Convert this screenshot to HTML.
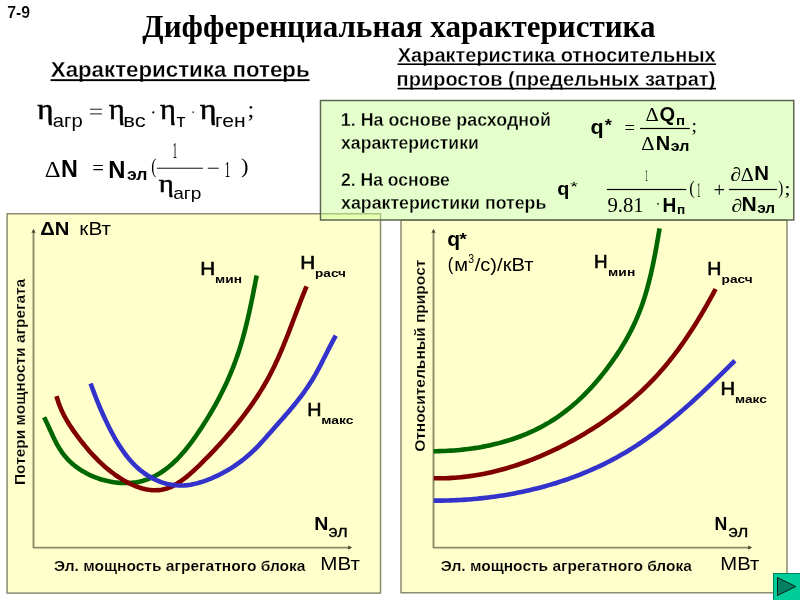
<!DOCTYPE html>
<html lang="ru">
<head>
<meta charset="utf-8">
<title>Дифференциальная характеристика</title>
<style>
html,body{margin:0;padding:0;background:#fff;}
body{width:800px;height:600px;overflow:hidden;position:relative;}
svg{display:block;position:absolute;left:0;top:0;}
text{white-space:pre;}
.s{font-family:"Liberation Sans",Arial,sans-serif;}
.b{font-family:"Liberation Sans",Arial,sans-serif;font-weight:bold;}
.r{font-family:"Liberation Serif","Times New Roman",serif;}
.t{font-family:"Liberation Serif","Times New Roman",serif;font-weight:bold;}
</style>
</head>
<body>
<svg width="800" height="600" viewBox="0 0 800 600">
<rect x="7.1" y="213.75" width="373.4" height="379.35" fill="#FFFFCC" stroke="#8C8C70" stroke-width="1.5"/>
<rect x="401" y="220" width="386" height="372.75" fill="#FFFFCC" stroke="#8C8C70" stroke-width="1.5"/>
<rect x="320.5" y="100.5" width="473.25" height="119.5" fill="#CCFF99" fill-opacity="0.5" stroke="#5F6650" stroke-width="1.5"/>
<text class="b" x="7.13" y="17.80" font-size="16.0" textLength="22.83" lengthAdjust="spacingAndGlyphs" stroke="#FFFFFF" stroke-width="0.15">7-9</text>
<text class="t" x="142.34" y="37.20" font-size="31" textLength="513.13" lengthAdjust="spacingAndGlyphs">Дифференциальная характеристика</text>
<text class="b" x="50.78" y="77.10" font-size="22.3" textLength="258.85" lengthAdjust="spacingAndGlyphs" stroke="#FFFFFF" stroke-width="0.3">Характеристика потерь</text>
<rect x="50.50" y="79.20" width="259.10" height="1.90" fill="#000"/>
<text class="b" x="397.80" y="61.60" font-size="20" textLength="317.77" lengthAdjust="spacingAndGlyphs" stroke="#FFFFFF" stroke-width="0.3">Характеристика относительных</text>
<rect x="397.50" y="63.40" width="318.60" height="1.60" fill="#000"/>
<text class="b" x="396.60" y="86.00" font-size="20" textLength="318.72" lengthAdjust="spacingAndGlyphs" stroke="#FFFFFF" stroke-width="0.3">приростов (предельных затрат)</text>
<rect x="397.50" y="87.80" width="318.50" height="1.60" fill="#000"/>
<text class="r" x="37.34" y="119.40" font-size="29" textLength="16.21" lengthAdjust="spacingAndGlyphs" stroke="#000" stroke-width="0.5">η</text>
<text class="s" x="52.89" y="127.20" font-size="17.7" textLength="29.86" lengthAdjust="spacingAndGlyphs">агр</text>
<rect x="90.10" y="108.70" width="11.80" height="1.10" fill="#333"/>
<rect x="90.10" y="113.30" width="11.80" height="1.10" fill="#333"/>
<text class="r" x="108.84" y="119.40" font-size="29" textLength="16.09" lengthAdjust="spacingAndGlyphs" stroke="#000" stroke-width="0.5">η</text>
<text class="s" x="123.37" y="127.20" font-size="17.7" textLength="22.34" lengthAdjust="spacingAndGlyphs">вс</text>
<circle cx="153.3" cy="112.4" r="1.1" fill="#000"/>
<text class="r" x="159.94" y="119.40" font-size="29" textLength="15.92" lengthAdjust="spacingAndGlyphs" stroke="#000" stroke-width="0.5">η</text>
<text class="s" x="176.56" y="127.00" font-size="17.7" textLength="8.89" lengthAdjust="spacingAndGlyphs">т</text>
<circle cx="193.2" cy="112.2" r="0.9" fill="#444"/>
<text class="r" x="199.82" y="119.40" font-size="29" textLength="16.78" lengthAdjust="spacingAndGlyphs" stroke="#000" stroke-width="0.5">η</text>
<text class="s" x="215.02" y="127.20" font-size="17.7" textLength="30.63" lengthAdjust="spacingAndGlyphs">ген</text>
<text class="r" x="247.42" y="117.10" font-size="23.4" textLength="6.78" lengthAdjust="spacingAndGlyphs">;</text>
<text class="r" x="44.87" y="177.40" font-size="23" textLength="15.86" lengthAdjust="spacingAndGlyphs">Δ</text>
<text class="b" x="60.93" y="177.10" font-size="24.5" textLength="16.84" lengthAdjust="spacingAndGlyphs" stroke="none">N</text>
<text class="r" x="92.21" y="175.11" font-size="21" textLength="11.70" lengthAdjust="spacingAndGlyphs">=</text>
<text class="b" x="108.29" y="177.60" font-size="24.5" textLength="17.21" lengthAdjust="spacingAndGlyphs" stroke="none">N</text>
<text class="b" x="126.96" y="179.75" font-size="16" textLength="20.48" lengthAdjust="spacingAndGlyphs" stroke="none">эл</text>
<text class="r" x="151.21" y="172.69" font-size="20.7" textLength="5.09" lengthAdjust="spacingAndGlyphs">(</text>
<rect x="156.90" y="167.70" width="46.10" height="1.10" fill="#2a2a2a"/>
<text class="r" x="172.56" y="158.37" font-size="23.9" textLength="4.82" lengthAdjust="spacingAndGlyphs">1</text>
<text class="r" x="158.67" y="191.61" font-size="24.7" textLength="15.06" lengthAdjust="spacingAndGlyphs" stroke="#000" stroke-width="0.5">η</text>
<text class="s" x="173.19" y="199.00" font-size="17" textLength="28.22" lengthAdjust="spacingAndGlyphs">агр</text>
<rect x="207.70" y="167.70" width="11.05" height="1.10" fill="#2a2a2a"/>
<text class="r" x="224.57" y="177.11" font-size="23.5" textLength="5.89" lengthAdjust="spacingAndGlyphs">1</text>
<text class="r" x="241.07" y="172.99" font-size="22" textLength="7.50" lengthAdjust="spacingAndGlyphs">)</text>
<text class="b" x="340.89" y="126.00" font-size="17.6" textLength="210.08" lengthAdjust="spacingAndGlyphs" stroke="#E6FFCC" stroke-width="0.3">1. На основе расходной</text>
<text class="b" x="341.07" y="148.50" font-size="17.6" stroke="#E6FFCC" stroke-width="0.3">характеристики</text>
<text class="b" x="340.88" y="186.00" font-size="17.6" stroke="#E6FFCC" stroke-width="0.3">2. На основе</text>
<text class="b" x="341.07" y="209.10" font-size="17.6" textLength="205.28" lengthAdjust="spacingAndGlyphs" stroke="#E6FFCC" stroke-width="0.3">характеристики потерь</text>
<text class="b" x="590.54" y="133.60" font-size="20" textLength="13.12" lengthAdjust="spacingAndGlyphs" stroke="none">q</text>
<text class="b" x="604.85" y="131.44" font-size="17" textLength="7.18" lengthAdjust="spacingAndGlyphs" stroke="none">*</text>
<text class="r" x="624.58" y="133.76" font-size="18.5" textLength="10.43" lengthAdjust="spacingAndGlyphs">=</text>
<rect x="640.10" y="127.90" width="49.60" height="1.20" fill="#000"/>
<text class="r" x="645.48" y="121.25" font-size="19" textLength="13.20" lengthAdjust="spacingAndGlyphs">Δ</text>
<text class="b" x="659.44" y="120.90" font-size="21" textLength="15.67" lengthAdjust="spacingAndGlyphs" stroke="none">Q</text>
<text class="b" x="675.95" y="124.75" font-size="13" textLength="9.09" lengthAdjust="spacingAndGlyphs" stroke="none">п</text>
<text class="r" x="691.47" y="132.42" font-size="19.4" textLength="5.46" lengthAdjust="spacingAndGlyphs">;</text>
<text class="r" x="641.22" y="150.40" font-size="19" textLength="13.31" lengthAdjust="spacingAndGlyphs">Δ</text>
<text class="b" x="655.65" y="150.38" font-size="19.9" textLength="14.44" lengthAdjust="spacingAndGlyphs" stroke="none">N</text>
<text class="b" x="670.85" y="151.25" font-size="14" textLength="18.57" lengthAdjust="spacingAndGlyphs" stroke="none">эл</text>
<text class="b" x="557.31" y="195.00" font-size="18.6" textLength="12.10" lengthAdjust="spacingAndGlyphs" stroke="none">q</text>
<text class="s" x="570.26" y="191.11" font-size="13.4" textLength="7.56" lengthAdjust="spacingAndGlyphs">*</text>
<rect x="606.90" y="188.90" width="79.35" height="1.20" fill="#000"/>
<text class="r" x="645.13" y="181.23" font-size="16.1" textLength="2.70" lengthAdjust="spacingAndGlyphs">1</text>
<text class="r" x="607.43" y="211.90" font-size="20.3" textLength="36.32" lengthAdjust="spacingAndGlyphs">9.81</text>
<circle cx="658" cy="203.8" r="0.9" fill="#000"/>
<text class="b" x="662.46" y="211.70" font-size="20.4" textLength="13.83" lengthAdjust="spacingAndGlyphs" stroke="none">H</text>
<text class="b" x="676.95" y="213.75" font-size="12.6" textLength="8.18" lengthAdjust="spacingAndGlyphs" stroke="none">п</text>
<text class="r" x="689.26" y="193.59" font-size="18.4" textLength="5.48" lengthAdjust="spacingAndGlyphs">(</text>
<text class="r" x="696.88" y="197.08" font-size="20.2" textLength="3.55" lengthAdjust="spacingAndGlyphs">1</text>
<text class="r" x="713.58" y="196.60" font-size="20" textLength="11.52" lengthAdjust="spacingAndGlyphs">+</text>
<rect x="728.90" y="188.90" width="48.10" height="1.20" fill="#000"/>
<text class="r" x="730.30" y="180.94" font-size="19.5" textLength="10.71" lengthAdjust="spacingAndGlyphs">∂</text>
<text class="r" x="740.74" y="180.60" font-size="18.6" textLength="13.03" lengthAdjust="spacingAndGlyphs">Δ</text>
<text class="b" x="754.32" y="180.01" font-size="19.8" textLength="14.75" lengthAdjust="spacingAndGlyphs" stroke="none">N</text>
<text class="r" x="731.59" y="211.68" font-size="18.3" textLength="10.82" lengthAdjust="spacingAndGlyphs">∂</text>
<text class="b" x="741.48" y="210.87" font-size="19.3" textLength="15.24" lengthAdjust="spacingAndGlyphs" stroke="none">N</text>
<text class="b" x="757.22" y="213.20" font-size="14" textLength="17.86" lengthAdjust="spacingAndGlyphs" stroke="none">эл</text>
<text class="r" x="778.21" y="194.19" font-size="18.4" textLength="5.04" lengthAdjust="spacingAndGlyphs">)</text>
<text class="r" x="784.19" y="195.46" font-size="18" textLength="6.40" lengthAdjust="spacingAndGlyphs">;</text>
<path d="M33.5,232 L33.5,547.6 L349,547.6" fill="none" stroke="#8A8A68" stroke-width="1.9" stroke-linejoin="round"/>
<path d="M31.4,232.8 L33.5,228.8 L35.6,232.8 Z" fill="#4A4A38"/>
<path d="M348.2,545.5 L352.2,547.6 L348.2,549.7 Z" fill="#4A4A38"/>
<path d="M433.5,232 L433.5,547.6 L749,547.6" fill="none" stroke="#8A8A68" stroke-width="1.9" stroke-linejoin="round"/>
<path d="M431.4,232.8 L433.5,228.8 L435.6,232.8 Z" fill="#4A4A38"/>
<path d="M748.2,545.5 L752.2,547.6 L748.2,549.7 Z" fill="#4A4A38"/>
<path d="M44.17,417.34 L45.56,420.15 L46.91,423.00 L48.24,425.88 L49.55,428.77 L50.86,431.67 L52.19,434.56 L53.54,437.44 L54.93,440.28 L56.38,443.08 L57.89,445.82 L59.48,448.50 L61.16,451.09 L62.95,453.60 L64.85,456.02 L66.86,458.33 L68.97,460.55 L71.19,462.68 L73.50,464.71 L75.92,466.63 L78.43,468.47 L81.03,470.20 L83.72,471.83 L86.50,473.36 L89.36,474.79 L92.30,476.12 L95.29,477.34 L98.35,478.45 L101.45,479.45 L104.59,480.33 L107.77,481.10 L110.96,481.74 L114.17,482.26 L117.39,482.65 L120.60,482.92 L123.81,483.05 L126.99,483.05 L130.15,482.91 L133.27,482.64 L136.35,482.22 L139.38,481.65 L142.35,480.94 L145.25,480.08 L148.09,479.09 L150.88,477.96 L153.61,476.70 L156.27,475.32 L158.89,473.82 L161.45,472.21 L163.95,470.49 L166.41,468.68 L168.81,466.76 L171.17,464.76 L173.48,462.67 L175.74,460.51 L177.95,458.27 L180.13,455.96 L182.25,453.59 L184.34,451.17 L186.39,448.69 L188.40,446.17 L190.37,443.60 L192.30,441.00 L194.21,438.38 L196.07,435.72 L197.91,433.05 L199.71,430.37 L201.48,427.68 L203.23,424.99 L204.95,422.29 L206.63,419.60 L208.29,416.89 L209.93,414.19 L211.53,411.47 L213.10,408.76 L214.65,406.03 L216.16,403.30 L217.65,400.56 L219.11,397.82 L220.54,395.06 L221.95,392.29 L223.32,389.52 L224.67,386.73 L225.98,383.93 L227.27,381.11 L228.53,378.29 L229.76,375.45 L230.96,372.59 L232.13,369.73 L233.28,366.84 L234.39,363.94 L235.48,361.02 L236.53,358.08 L237.56,355.13 L238.56,352.15 L239.53,349.15 L240.47,346.14 L241.38,343.11 L242.27,340.06 L243.13,337.00 L243.97,333.92 L244.78,330.83 L245.57,327.74 L246.34,324.64 L247.10,321.53 L247.83,318.42 L248.54,315.30 L249.24,312.19 L249.92,309.08 L250.59,305.97 L251.24,302.87 L251.88,299.77 L252.51,296.68 L253.13,293.61 L253.74,290.54 L254.34,287.49 L254.94,284.46 L255.52,281.44 L256.11,278.45 L256.69,275.47" fill="none" stroke="#006600" stroke-width="4.6" stroke-linejoin="round"/>
<path d="M56.53,396.15 L57.49,399.53 L58.57,402.83 L59.78,406.06 L61.09,409.22 L62.51,412.33 L64.03,415.37 L65.65,418.36 L67.34,421.30 L69.11,424.19 L70.95,427.04 L72.85,429.86 L74.81,432.64 L76.81,435.39 L78.86,438.12 L80.94,440.83 L83.06,443.51 L85.22,446.17 L87.42,448.79 L89.66,451.38 L91.94,453.92 L94.28,456.43 L96.66,458.89 L99.09,461.30 L101.57,463.65 L104.11,465.95 L106.70,468.19 L109.36,470.37 L112.07,472.48 L114.84,474.52 L117.68,476.49 L120.58,478.38 L123.55,480.18 L126.57,481.89 L129.65,483.49 L132.78,484.96 L135.94,486.28 L139.13,487.45 L142.35,488.44 L145.57,489.23 L148.81,489.82 L152.04,490.18 L155.27,490.30 L158.48,490.17 L161.67,489.76 L164.83,489.07 L167.95,488.08 L171.02,486.83 L174.05,485.33 L177.03,483.63 L179.95,481.76 L182.80,479.74 L185.59,477.60 L188.31,475.39 L190.96,473.12 L193.54,470.80 L196.07,468.43 L198.56,466.04 L201.02,463.62 L203.45,461.18 L205.88,458.73 L208.29,456.27 L210.68,453.80 L213.06,451.31 L215.42,448.81 L217.77,446.29 L220.09,443.76 L222.40,441.22 L224.69,438.66 L226.96,436.09 L229.20,433.50 L231.43,430.89 L233.63,428.27 L235.80,425.63 L237.95,422.97 L240.08,420.30 L242.18,417.60 L244.25,414.89 L246.30,412.16 L248.31,409.42 L250.30,406.65 L252.26,403.86 L254.18,401.05 L256.07,398.22 L257.93,395.37 L259.76,392.50 L261.55,389.61 L263.31,386.69 L265.03,383.76 L266.71,380.80 L268.36,377.81 L269.97,374.80 L271.53,371.77 L273.07,368.72 L274.56,365.64 L276.02,362.55 L277.46,359.44 L278.86,356.31 L280.23,353.16 L281.59,350.01 L282.91,346.84 L284.22,343.66 L285.51,340.47 L286.78,337.27 L288.04,334.07 L289.29,330.86 L290.52,327.65 L291.75,324.44 L292.97,321.23 L294.19,318.01 L295.40,314.81 L296.62,311.60 L297.83,308.40 L299.05,305.21 L300.28,302.03 L301.52,298.86 L302.76,295.70 L304.02,292.56 L305.30,289.43 L306.59,286.31" fill="none" stroke="#800000" stroke-width="4.6" stroke-linejoin="round"/>
<path d="M90.64,383.57 L91.73,386.55 L92.82,389.50 L93.92,392.42 L95.03,395.33 L96.16,398.22 L97.30,401.08 L98.47,403.94 L99.65,406.78 L100.85,409.60 L102.08,412.42 L103.33,415.23 L104.62,418.03 L105.93,420.82 L107.27,423.62 L108.64,426.41 L110.05,429.20 L111.50,431.99 L112.99,434.77 L114.52,437.53 L116.10,440.28 L117.72,443.00 L119.39,445.68 L121.12,448.33 L122.90,450.93 L124.75,453.49 L126.65,455.99 L128.61,458.42 L130.64,460.79 L132.74,463.09 L134.92,465.31 L137.16,467.44 L139.48,469.48 L141.88,471.42 L144.35,473.26 L146.90,475.00 L149.51,476.62 L152.19,478.12 L154.92,479.50 L157.70,480.75 L160.54,481.87 L163.42,482.85 L166.33,483.69 L169.29,484.37 L172.27,484.90 L175.28,485.27 L178.31,485.48 L181.36,485.52 L184.42,485.38 L187.49,485.10 L190.56,484.66 L193.63,484.08 L196.69,483.38 L199.74,482.55 L202.76,481.62 L205.77,480.58 L208.75,479.46 L211.69,478.26 L214.60,476.98 L217.47,475.65 L220.29,474.26 L223.06,472.81 L225.79,471.30 L228.48,469.74 L231.12,468.12 L233.72,466.45 L236.28,464.72 L238.79,462.94 L241.26,461.10 L243.69,459.21 L246.07,457.27 L248.41,455.28 L250.71,453.24 L252.96,451.14 L255.17,449.00 L257.35,446.80 L259.48,444.57 L261.59,442.30 L263.67,440.01 L265.74,437.68 L267.79,435.35 L269.84,433.00 L271.89,430.65 L273.94,428.30 L276.00,425.95 L278.07,423.62 L280.14,421.28 L282.20,418.95 L284.26,416.61 L286.31,414.26 L288.34,411.91 L290.35,409.54 L292.34,407.16 L294.31,404.77 L296.25,402.36 L298.17,399.93 L300.06,397.48 L301.92,395.02 L303.74,392.53 L305.54,390.01 L307.29,387.47 L309.01,384.90 L310.70,382.31 L312.34,379.68 L313.94,377.02 L315.49,374.33 L317.01,371.61 L318.50,368.87 L319.96,366.11 L321.40,363.33 L322.82,360.54 L324.23,357.75 L325.64,354.95 L327.04,352.16 L328.45,349.37 L329.88,346.60 L331.31,343.84 L332.77,341.10 L334.26,338.38 L335.78,335.70" fill="none" stroke="#3333CC" stroke-width="4.6" stroke-linejoin="round"/>
<path d="M433.51,451.23 L436.41,451.20 L439.32,451.15 L442.24,451.07 L445.17,450.96 L448.10,450.82 L451.04,450.65 L453.98,450.45 L456.92,450.21 L459.86,449.95 L462.81,449.65 L465.76,449.32 L468.70,448.95 L471.65,448.55 L474.59,448.12 L477.53,447.65 L480.46,447.15 L483.39,446.62 L486.31,446.04 L489.23,445.43 L492.13,444.79 L495.03,444.11 L497.92,443.39 L500.79,442.63 L503.66,441.84 L506.51,441.00 L509.35,440.13 L512.18,439.22 L514.99,438.27 L517.78,437.28 L520.56,436.25 L523.31,435.18 L526.05,434.06 L528.77,432.91 L531.47,431.71 L534.14,430.47 L536.80,429.19 L539.43,427.86 L542.03,426.49 L544.61,425.07 L547.17,423.62 L549.69,422.11 L552.19,420.56 L554.66,418.97 L557.11,417.34 L559.52,415.67 L561.91,413.95 L564.27,412.20 L566.61,410.40 L568.91,408.57 L571.19,406.70 L573.44,404.80 L575.66,402.86 L577.86,400.88 L580.02,398.88 L582.16,396.84 L584.27,394.76 L586.35,392.66 L588.40,390.53 L590.43,388.37 L592.42,386.18 L594.39,383.97 L596.34,381.73 L598.26,379.47 L600.15,377.18 L602.02,374.88 L603.86,372.56 L605.68,370.22 L607.47,367.86 L609.24,365.49 L610.99,363.10 L612.71,360.69 L614.40,358.27 L616.07,355.83 L617.71,353.37 L619.32,350.90 L620.90,348.41 L622.45,345.90 L623.97,343.38 L625.45,340.84 L626.91,338.28 L628.33,335.70 L629.72,333.11 L631.07,330.50 L632.39,327.87 L633.67,325.22 L634.91,322.56 L636.12,319.88 L637.29,317.18 L638.42,314.46 L639.51,311.72 L640.56,308.97 L641.57,306.20 L642.55,303.42 L643.50,300.62 L644.41,297.81 L645.29,294.98 L646.14,292.14 L646.96,289.30 L647.75,286.44 L648.51,283.57 L649.25,280.69 L649.97,277.81 L650.66,274.92 L651.33,272.02 L651.97,269.12 L652.60,266.22 L653.21,263.31 L653.81,260.39 L654.39,257.48 L654.95,254.57 L655.50,251.65 L656.04,248.74 L656.57,245.82 L657.09,242.91 L657.60,240.01 L658.10,237.11 L658.60,234.21 L659.10,231.32 L659.59,228.43" fill="none" stroke="#006600" stroke-width="4.6" stroke-linejoin="round"/>
<path d="M433.75,478.28 L436.79,478.32 L439.81,478.32 L442.84,478.28 L445.86,478.20 L448.87,478.08 L451.88,477.92 L454.88,477.72 L457.88,477.48 L460.87,477.20 L463.85,476.89 L466.83,476.53 L469.80,476.14 L472.77,475.72 L475.73,475.25 L478.68,474.75 L481.63,474.22 L484.57,473.65 L487.50,473.05 L490.42,472.41 L493.34,471.74 L496.25,471.03 L499.15,470.30 L502.04,469.53 L504.93,468.73 L507.80,467.89 L510.67,467.03 L513.53,466.14 L516.39,465.21 L519.23,464.26 L522.06,463.28 L524.89,462.27 L527.71,461.23 L530.51,460.16 L533.31,459.07 L536.10,457.95 L538.88,456.80 L541.65,455.63 L544.41,454.43 L547.16,453.21 L549.90,451.96 L552.63,450.69 L555.35,449.39 L558.05,448.07 L560.75,446.73 L563.44,445.37 L566.11,443.98 L568.78,442.57 L571.43,441.14 L574.07,439.69 L576.70,438.22 L579.32,436.73 L581.92,435.22 L584.52,433.69 L587.10,432.14 L589.66,430.56 L592.21,428.96 L594.75,427.35 L597.27,425.71 L599.78,424.05 L602.28,422.37 L604.75,420.67 L607.22,418.95 L609.66,417.21 L612.09,415.44 L614.51,413.66 L616.90,411.85 L619.28,410.03 L621.64,408.18 L623.99,406.31 L626.31,404.42 L628.62,402.50 L630.90,400.57 L633.17,398.62 L635.42,396.64 L637.65,394.64 L639.86,392.62 L642.05,390.58 L644.21,388.52 L646.36,386.44 L648.48,384.33 L650.58,382.21 L652.66,380.06 L654.72,377.89 L656.75,375.70 L658.76,373.49 L660.75,371.26 L662.72,369.00 L664.66,366.73 L666.58,364.43 L668.48,362.12 L670.35,359.79 L672.21,357.44 L674.04,355.07 L675.85,352.68 L677.65,350.28 L679.42,347.86 L681.18,345.43 L682.91,342.98 L684.63,340.52 L686.33,338.04 L688.01,335.55 L689.67,333.05 L691.32,330.53 L692.95,328.00 L694.56,325.46 L696.15,322.91 L697.73,320.35 L699.30,317.78 L700.85,315.21 L702.38,312.62 L703.90,310.02 L705.41,307.42 L706.90,304.81 L708.38,302.19 L709.85,299.57 L711.30,296.94 L712.74,294.31 L714.17,291.67 L715.59,289.03" fill="none" stroke="#800000" stroke-width="4.6" stroke-linejoin="round"/>
<path d="M433.67,500.66 L436.55,500.66 L439.44,500.64 L442.33,500.61 L445.22,500.55 L448.11,500.48 L451.00,500.39 L453.89,500.28 L456.78,500.15 L459.67,500.00 L462.56,499.83 L465.45,499.64 L468.34,499.43 L471.23,499.21 L474.11,498.96 L477.00,498.69 L479.88,498.41 L482.76,498.10 L485.64,497.77 L488.52,497.43 L491.39,497.06 L494.26,496.68 L497.13,496.27 L499.99,495.84 L502.85,495.40 L505.71,494.93 L508.56,494.44 L511.41,493.93 L514.26,493.40 L517.10,492.85 L519.93,492.28 L522.77,491.69 L525.59,491.08 L528.41,490.44 L531.23,489.79 L534.04,489.11 L536.84,488.41 L539.64,487.69 L542.43,486.95 L545.21,486.19 L547.99,485.41 L550.76,484.60 L553.52,483.77 L556.28,482.93 L559.02,482.05 L561.76,481.16 L564.49,480.25 L567.22,479.31 L569.93,478.35 L572.64,477.37 L575.33,476.36 L578.02,475.33 L580.70,474.28 L583.37,473.21 L586.03,472.12 L588.68,471.00 L591.32,469.86 L593.94,468.69 L596.56,467.51 L599.17,466.30 L601.77,465.06 L604.35,463.81 L606.92,462.53 L609.48,461.22 L612.03,459.90 L614.57,458.54 L617.09,457.17 L619.61,455.77 L622.11,454.35 L624.59,452.90 L627.07,451.43 L629.53,449.94 L631.97,448.42 L634.41,446.88 L636.82,445.32 L639.23,443.73 L641.62,442.12 L644.01,440.49 L646.37,438.84 L648.73,437.17 L651.07,435.48 L653.41,433.77 L655.73,432.04 L658.04,430.30 L660.33,428.54 L662.62,426.76 L664.90,424.96 L667.16,423.16 L669.41,421.33 L671.66,419.49 L673.89,417.64 L676.11,415.78 L678.33,413.90 L680.53,412.02 L682.73,410.12 L684.91,408.21 L687.09,406.29 L689.25,404.36 L691.41,402.42 L693.56,400.48 L695.70,398.52 L697.83,396.56 L699.96,394.60 L702.07,392.62 L704.18,390.64 L706.28,388.66 L708.37,386.67 L710.46,384.68 L712.53,382.68 L714.60,380.68 L716.66,378.67 L718.72,376.66 L720.76,374.65 L722.80,372.64 L724.83,370.63 L726.85,368.61 L728.87,366.60 L730.88,364.58 L732.88,362.56 L734.87,360.55" fill="none" stroke="#3333CC" stroke-width="4.6" stroke-linejoin="round"/>
<text class="b" x="40.19" y="234.80" font-size="18" textLength="29.14" lengthAdjust="spacingAndGlyphs" stroke="none">ΔN</text>
<text class="s" x="79.35" y="234.80" font-size="18" textLength="31.75" lengthAdjust="spacingAndGlyphs">кВт</text>
<text class="b" transform="translate(25.10,484.00) rotate(-90)" x="-1.04" y="0" font-size="15.4" textLength="206.25" lengthAdjust="spacingAndGlyphs" stroke="#FFFFCC" stroke-width="0.15">Потери мощности агрегата</text>
<text class="b" x="53.97" y="571.00" font-size="15.5" textLength="251.52" lengthAdjust="spacingAndGlyphs" stroke="#FFFFCC" stroke-width="0.15">Эл. мощность агрегатного блока</text>
<text class="s" x="320.30" y="570.00" font-size="19" textLength="39.66" lengthAdjust="spacingAndGlyphs">МВт</text>
<text class="b" x="314.18" y="529.50" font-size="19" textLength="14.14" lengthAdjust="spacingAndGlyphs" stroke="none">N</text>
<text class="s" x="328.51" y="537.20" font-size="16" textLength="19.24" lengthAdjust="spacingAndGlyphs" stroke="#000" stroke-width="0.3">эл</text>
<text class="s" x="200.30" y="275.00" font-size="19" textLength="14.90" lengthAdjust="spacingAndGlyphs" stroke="#000" stroke-width="0.6">H</text>
<text class="b" x="215.04" y="283.00" font-size="11.3" textLength="26.90" lengthAdjust="spacingAndGlyphs">мин</text>
<text class="s" x="300.30" y="268.50" font-size="19" textLength="14.90" lengthAdjust="spacingAndGlyphs" stroke="#000" stroke-width="0.6">H</text>
<text class="b" x="315.12" y="276.50" font-size="11.3" textLength="30.83" lengthAdjust="spacingAndGlyphs">расч</text>
<text class="s" x="307.37" y="416.20" font-size="19" textLength="14.25" lengthAdjust="spacingAndGlyphs" stroke="#000" stroke-width="0.6">H</text>
<text class="b" x="321.23" y="423.80" font-size="11.3" textLength="32.17" lengthAdjust="spacingAndGlyphs">макс</text>
<text class="b" x="447.26" y="245.60" font-size="19.5" textLength="12.88" lengthAdjust="spacingAndGlyphs" stroke="none">q</text>
<text class="b" x="459.35" y="245.44" font-size="17" textLength="7.58" lengthAdjust="spacingAndGlyphs" stroke="none">*</text>
<text class="s" x="447.71" y="270.31" font-size="18.5" textLength="5.52" lengthAdjust="spacingAndGlyphs">(</text>
<text class="s" x="454.19" y="270.60" font-size="18.5" textLength="13.81" lengthAdjust="spacingAndGlyphs">м</text>
<text class="s" x="468.36" y="263.37" font-size="12" textLength="5.85" lengthAdjust="spacingAndGlyphs">3</text>
<text class="s" x="474.70" y="270.60" font-size="18.5" textLength="58.76" lengthAdjust="spacingAndGlyphs">/с)/кВт</text>
<text class="b" transform="translate(425.10,451.25) rotate(-90)" x="-0.62" y="0" font-size="15.4" textLength="192.28" lengthAdjust="spacingAndGlyphs" stroke="#FFFFCC" stroke-width="0.15">Относительный прирост</text>
<text class="b" x="440.82" y="571.00" font-size="15.5" textLength="251.07" lengthAdjust="spacingAndGlyphs" stroke="#FFFFCC" stroke-width="0.15">Эл. мощность агрегатного блока</text>
<text class="s" x="720.33" y="570.40" font-size="19" textLength="39.02" lengthAdjust="spacingAndGlyphs">МВт</text>
<text class="b" x="714.41" y="529.60" font-size="19" textLength="12.78" lengthAdjust="spacingAndGlyphs" stroke="none">N</text>
<text class="s" x="728.49" y="537.00" font-size="16" textLength="19.79" lengthAdjust="spacingAndGlyphs" stroke="#000" stroke-width="0.3">эл</text>
<text class="s" x="594.05" y="268.25" font-size="19" textLength="13.60" lengthAdjust="spacingAndGlyphs" stroke="#000" stroke-width="0.6">H</text>
<text class="b" x="608.13" y="276.10" font-size="11.3" textLength="27.12" lengthAdjust="spacingAndGlyphs">мин</text>
<text class="s" x="707.39" y="275.25" font-size="19" textLength="14.12" lengthAdjust="spacingAndGlyphs" stroke="#000" stroke-width="0.6">H</text>
<text class="b" x="721.61" y="282.75" font-size="11.3" textLength="31.10" lengthAdjust="spacingAndGlyphs">расч</text>
<text class="s" x="720.43" y="395.25" font-size="19" textLength="14.64" lengthAdjust="spacingAndGlyphs" stroke="#000" stroke-width="0.6">H</text>
<text class="b" x="735.04" y="403.10" font-size="11.3" textLength="31.75" lengthAdjust="spacingAndGlyphs">макс</text>
<rect x="773.5" y="573.5" width="27" height="27" fill="#00CC99" stroke="#008060" stroke-width="1"/>
<path d="M777.5,577.5 L795.8,586.5 L777.5,595.5 Z" fill="#008060" stroke="#000" stroke-width="0.8" stroke-linejoin="round"/>
</svg>
</body>
</html>
